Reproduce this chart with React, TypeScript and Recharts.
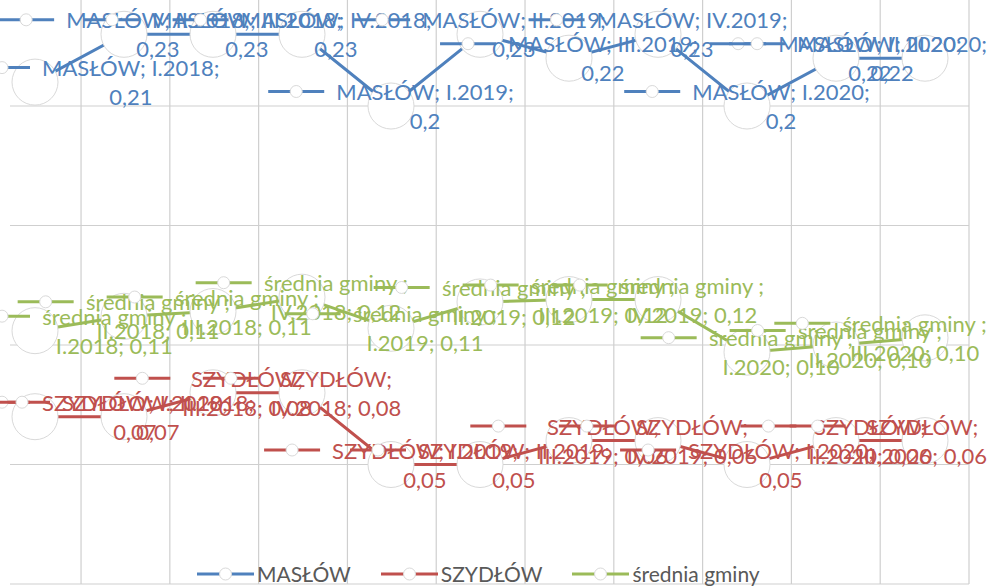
import React from 'react';
import { LineChart, Line, XAxis, YAxis, CartesianGrid, LabelList, Legend } from 'recharts';

const categories = ['I.2018', 'II.2018', 'III.2018', 'IV.2018', 'I.2019', 'II.2019', 'III.2019', 'IV.2019', 'I.2020', 'II.2020', 'III.2020'];
const maslow = [0.21, 0.23, 0.23, 0.23, 0.2, 0.23, 0.22, 0.23, 0.2, 0.22, 0.22];
const szydlow = [0.07, 0.07, 0.08, 0.08, 0.05, 0.05, 0.06, 0.06, 0.05, 0.06, 0.06];
const srednia = [0.106, 0.112, 0.114, 0.12, 0.107, 0.118, 0.119, 0.119, 0.097, 0.1, 0.103];
const szydlowWrap = [false, false, true, true, false, false, true, true, false, true, true];
const yTicks = [0, 0.05, 0.1, 0.15, 0.2, 0.25];
const gridTicks = [0, 1, 2, 3, 4, 5, 6, 7, 8, 9, 10];

const seriesNames = { m: 'MASŁÓW', s: 'SZYDŁÓW', g: 'średnia gminy' };

const BLUE = '#4F81BD';
const RED = '#C0504D';
const GREEN = '#9BBB59';
const GRID = '#cfcfcf';
const FONT = 'Lato';
const FS = 22;

const data = categories.map((cat, i) => ({ cat, idx: i, m: maslow[i], s: szydlow[i], g: srednia[i] }));

let ctx: CanvasRenderingContext2D | null = null;
function measure(t: string): number {
  if (!ctx) ctx = document.createElement('canvas').getContext('2d');
  if (!ctx) return t.length * 11;
  ctx.font = `${FS}px ${FONT}`;
  return ctx.measureText(t).width;
}

const fmtGeneral = (v: number) => String(v).replace('.', ',');
const fmtFixed = (v: number) => v.toFixed(2).replace('.', ',');

const KEY_W = 56;
const KEY_GAP = 12;
const LINE_OFF = 14.5;
const MIN_X = -26;
const MAX_X = 987;

function makeLabel(color: string, linesFor: (i: number) => [string, string]) {
  return (props: any) => {
    const x = props.x ?? props.viewBox?.x;
    const y = props.y ?? props.viewBox?.y;
    const index = props.index;
    if (x == null || y == null || index == null) return null;
    const lines = linesFor(index);
    const tw = Math.max(measure(lines[0]), measure(lines[1]));
    const bw = KEY_W + KEY_GAP + tw;
    let left = x - bw / 2;
    if (left < MIN_X) left = MIN_X;
    if (left + bw > MAX_X) left = MAX_X - bw;
    const tx = left + KEY_W + KEY_GAP + tw / 2;
    const y1 = y - LINE_OFF;
    const y2 = y + LINE_OFF;
    return (
      <g>
        <line x1={left} x2={left + KEY_W} y1={y1} y2={y1} stroke={color} strokeWidth={3} />
        <circle cx={left + KEY_W / 2} cy={y1} r={6} fill="#fff" stroke="#d9d9d9" strokeWidth={1} />
        <text x={tx} y={y1} textAnchor="middle" dominantBaseline="central" fill={color} fontFamily={FONT} fontSize={FS}>
          {lines[0]}
        </text>
        <text x={tx} y={y2} textAnchor="middle" dominantBaseline="central" fill={color} fontFamily={FONT} fontSize={FS}>
          {lines[1]}
        </text>
      </g>
    );
  };
}

const maslowLabel = makeLabel(BLUE, (i) => [`${seriesNames.m}; ${categories[i]};`, fmtGeneral(maslow[i])]);
const szydlowLabel = makeLabel(RED, (i) =>
  szydlowWrap[i]
    ? [`${seriesNames.s};`, `${categories[i]}; ${fmtGeneral(szydlow[i])}`]
    : [`${seriesNames.s}; ${categories[i]};`, fmtGeneral(szydlow[i])]
);
const sredniaLabel = makeLabel(GREEN, (i) => [`${seriesNames.g} ;`, `${categories[i]}; ${fmtFixed(srednia[i])}`]);

const legendItems = [
  { name: seriesNames.m, color: BLUE },
  { name: seriesNames.s, color: RED },
  { name: seriesNames.g, color: GREEN },
];

const LegendContent = () => (
  <div style={{ display: 'flex', alignItems: 'center', height: 24, paddingLeft: 197 }}>
    {legendItems.map((it) => (
      <div key={it.name} style={{ display: 'flex', alignItems: 'center', marginRight: 30 }}>
        <svg width={57} height={16} style={{ display: 'block' }}>
          <line x1={0} x2={57} y1={8} y2={8} stroke={it.color} strokeWidth={3} />
          <circle cx={28.5} cy={8} r={6} fill="#fff" stroke="#d9d9d9" />
        </svg>
        <span style={{ fontFamily: FONT, fontSize: 21, color: '#595959', marginLeft: 3, lineHeight: '24px', whiteSpace: 'nowrap' }}>
          {it.name}
        </span>
      </div>
    ))}
  </div>
);

const dotStyle = { r: 23, fill: '#fff', stroke: '#d9d9d9', strokeWidth: 1 };

export default function App() {
  return (
    <div style={{ position: 'absolute', left: 0, top: 0, width: 994, height: 586, overflow: 'hidden', background: '#fff' }}>
      <div style={{ position: 'absolute', left: 0, top: -24 }}>
        <LineChart width={994} height={620} data={data} margin={{ top: 10.5, left: 10, right: 25, bottom: 12 }}>
          <XAxis dataKey="cat" type="category" hide padding={{ left: 25, right: 44 }} />
          <XAxis xAxisId="grid" dataKey="idx" type="number" domain={[-0.8, 10]} ticks={gridTicks} hide allowDataOverflow />
          <YAxis hide domain={[0, 0.25]} ticks={yTicks} type="number" allowDataOverflow />
          <CartesianGrid xAxisId="grid" stroke={GRID} strokeWidth={1.2} horizontal vertical syncWithTicks />
          <Legend
            layout="horizontal"
            verticalAlign="middle"
            align="center"
            wrapperStyle={{ top: 586, left: 0, width: 994, height: 24 }}
            content={() => <LegendContent />}
          />
          <Line dataKey="m" stroke={BLUE} strokeWidth={3} dot={dotStyle} activeDot={false} isAnimationActive={false}>
            <LabelList dataKey="m" content={maslowLabel} />
          </Line>
          <Line dataKey="s" stroke={RED} strokeWidth={3} dot={dotStyle} activeDot={false} isAnimationActive={false}>
            <LabelList dataKey="s" content={szydlowLabel} />
          </Line>
          <Line dataKey="g" stroke={GREEN} strokeWidth={3} dot={dotStyle} activeDot={false} isAnimationActive={false}>
            <LabelList dataKey="g" content={sredniaLabel} />
          </Line>
        </LineChart>
      </div>
    </div>
  );
}
